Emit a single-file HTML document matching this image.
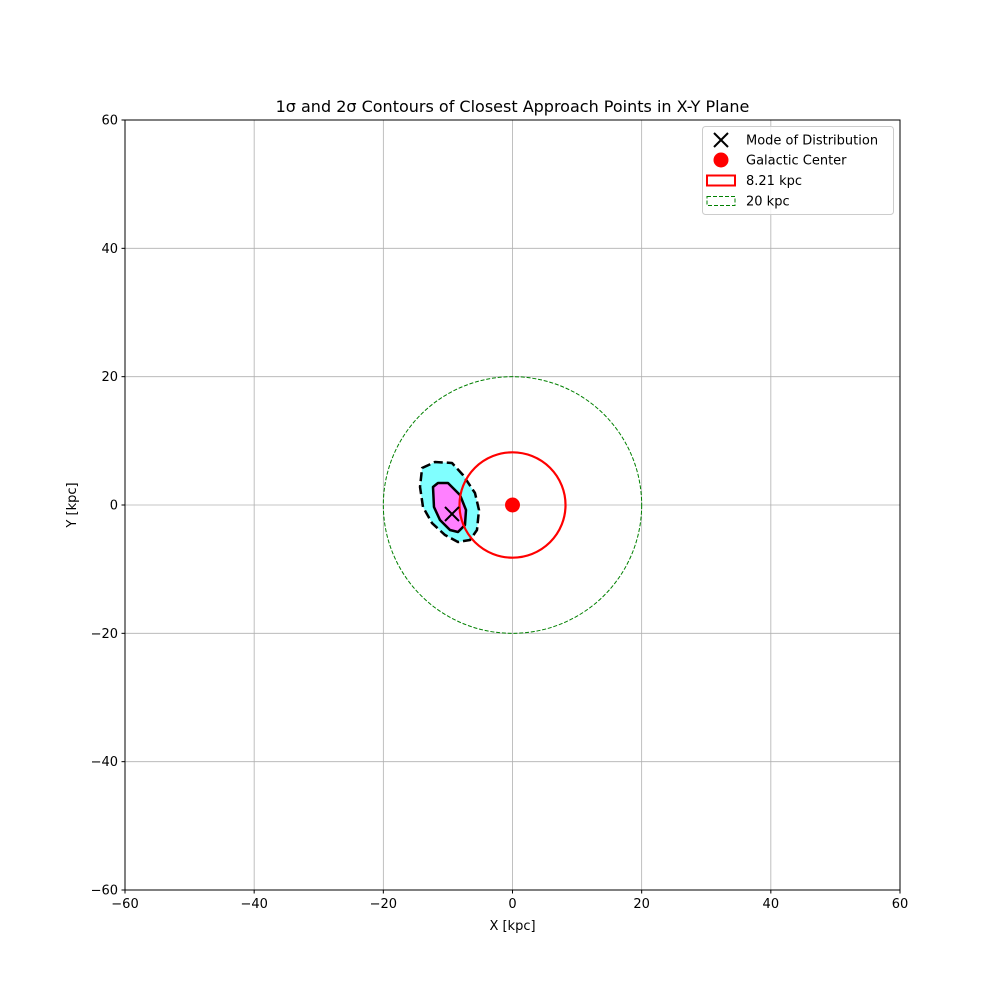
<!DOCTYPE html>
<html><head><meta charset="utf-8">
<style>
body{margin:0;background:#fff;}
svg{display:block;font-family:"DejaVu Sans","Liberation Sans",sans-serif;}
</style></head>
<body>
<svg id="chart" width="1000" height="1000" xmlns="http://www.w3.org/2000/svg">
<rect width="1000" height="1000" fill="#fff"/>
<text x="512.5" y="112" text-anchor="middle" font-size="16">1σ and 2σ Contours of Closest Approach Points in X-Y Plane</text>
<g id="grid"></g>
<g id="plot"></g>
<rect x="125" y="120" width="775" height="770" fill="none" stroke="#000" stroke-width="1"/>
<g id="ticks" font-size="13"></g>
<text x="512.5" y="930" text-anchor="middle" font-size="13">X [kpc]</text>
<text transform="translate(76,505) rotate(-90)" text-anchor="middle" font-size="13">Y [kpc]</text>
<g>
<rect x="702.5" y="126.5" width="191" height="88" rx="3" fill="#fff" fill-opacity="0.8" stroke="#ccc"/>
<g>
<path d="M714,133 L728,147 M728,133 L714,147" stroke="#000" stroke-width="2"/>
<text x="746" y="144.5" font-size="13">Mode of Distribution</text></g>
<g>
<circle cx="721" cy="160" r="7.5" fill="red"/>
<text x="746" y="164.5" font-size="13">Galactic Center</text></g>
<g>
<rect x="707" y="175.5" width="28" height="10" fill="none" stroke="red" stroke-width="2"/>
<text x="746" y="185" font-size="13">8.21 kpc</text></g>
<g>
<rect x="707" y="196.5" width="28" height="9" fill="none" stroke="green" stroke-width="1" stroke-dasharray="4,2"/>
<text x="746" y="205.5" font-size="13">20 kpc</text></g>
</g>
</svg>
<script>
const xTicks=[-60,-40,-20,0,20,40,60];
const yTicks=[-60,-40,-20,0,20,40,60];
const outerX=[-14.0,-12.0,-9.37,-7.67,-5.81,-5.19,-5.50,-6.58,-8.44,-10.45,-12.47,-13.86,-14.32];
const outerY=[5.77,6.70,6.55,4.68,1.87,-0.78,-3.90,-5.45,-5.77,-4.68,-2.81,-0.31,2.81];
const innerX=[-12.31,-11.54,-9.99,-8.13,-7.20,-7.36,-8.44,-9.68,-11.23,-12.16];
const innerY=[2.81,3.43,3.43,1.56,-0.78,-3.12,-4.21,-3.90,-2.34,-0.31];
const modeXY=[-9.37,-1.4];
const centerXY=[0,0];
const radii=[8.21,20];

const NS="http://www.w3.org/2000/svg";
const sx=v=>125+(v+60)/120*775;
const sy=v=>890-(v+60)/120*770;
const mk=(tag,attrs,parent)=>{const e=document.createElementNS(NS,tag);for(const k in attrs)e.setAttribute(k,attrs[k]);parent.appendChild(e);return e;};
const grid=document.getElementById('grid'),plot=document.getElementById('plot'),ticks=document.getElementById('ticks');

xTicks.forEach(t=>{
 const g=mk('line',{x1:sx(t),x2:sx(t),y1:120,y2:890,stroke:'#b0b0b0','stroke-width':0.8},grid);
 
 
 mk('line',{x1:sx(t),x2:sx(t),y1:890,y2:893.5,stroke:'#000'},ticks);
 const l=mk('text',{x:sx(t),y:908,'text-anchor':'middle'},ticks);
 l.textContent=t<0?'−'+(-t):t;
 
 
});
yTicks.forEach(t=>{
 const g=mk('line',{x1:125,x2:900,y1:sy(t),y2:sy(t),stroke:'#b0b0b0','stroke-width':0.8},grid);
 
 
 mk('line',{x1:121.5,x2:125,y1:sy(t),y2:sy(t),stroke:'#000'},ticks);
 const l=mk('text',{x:118,y:sy(t)+4.5,'text-anchor':'end'},ticks);
 l.textContent=t<0?'−'+(-t):t;
 
 
});
const pts=(xs,ys)=>xs.map((x,i)=>sx(x)+','+sy(ys[i])).join(' ');
const o=mk('polygon',{points:pts(outerX,outerY),fill:'#80ffff',stroke:'none'},plot);


const i1=mk('polygon',{points:pts(innerX,innerY),fill:'#ff80ff',stroke:'none'},plot);


const oL=mk('polygon',{points:pts(outerX,outerY),fill:'none',stroke:'#000','stroke-width':2.5,'stroke-dasharray':'9,4','stroke-linejoin':'round'},plot);


const iL=mk('polygon',{points:pts(innerX,innerY),fill:'none',stroke:'#000','stroke-width':2.5,'stroke-linejoin':'round'},plot);


const kx=775/120,ky=770/120;
const c1=mk('ellipse',{cx:sx(centerXY[0]),cy:sy(centerXY[1]),rx:radii[0]*kx,ry:radii[0]*ky,fill:'none',stroke:'red','stroke-width':2.2},plot);


const c2=mk('ellipse',{cx:sx(centerXY[0]),cy:sy(centerXY[1]),rx:radii[1]*kx,ry:radii[1]*ky,fill:'none',stroke:'green','stroke-width':1,'stroke-dasharray':'4,1.8'},plot);


const gc=mk('circle',{cx:sx(centerXY[0]),cy:sy(centerXY[1]),r:7.5,fill:'red'},plot);


const mx=sx(modeXY[0]),my=sy(modeXY[1]);
const m=mk('path',{d:`M${mx-7},${my-7} L${mx+7},${my+7} M${mx+7},${my-7} L${mx-7},${my+7}`,stroke:'#000','stroke-width':2},plot);


</script>
</body></html>
